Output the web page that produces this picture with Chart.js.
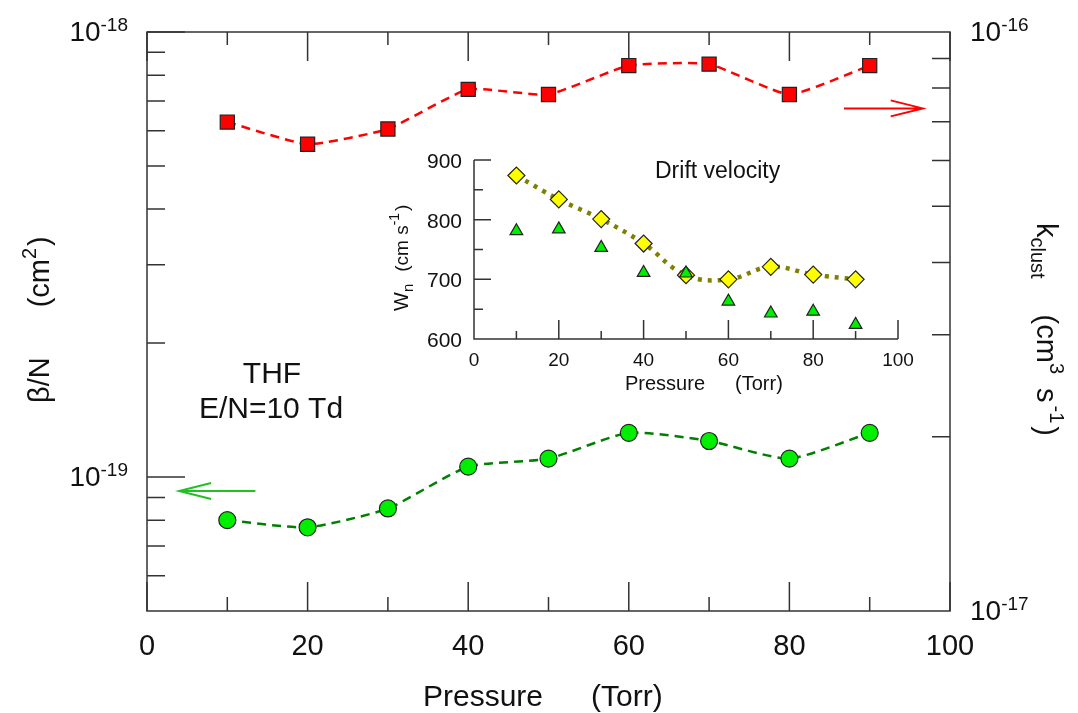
<!DOCTYPE html>
<html>
<head>
<meta charset="utf-8">
<script src="https://cdn.jsdelivr.net/npm/chart.js@4.4.0/dist/chart.umd.min.js"></script>
<style>
  html, body { margin: 0; padding: 0; background: #fff; }
  #wrap { position: relative; width: 1078px; height: 713px; }
  #wrap canvas { position: absolute; left: 0; top: 0; }
</style>
</head>
<body>
<div id="wrap">
  <canvas id="mainChart" width="1078" height="713"></canvas>
  <canvas id="insetChart" width="1078" height="713"></canvas>
</div>
<script>
// DATA ######################################################################

var pressure = [10, 20, 30, 40, 50, 60, 70, 80, 90];
// beta/N (cm2), left axis
var betaN = [8.0e-20, 7.71e-20, 8.5e-20, 1.055e-19, 1.10e-19, 1.257e-19, 1.205e-19, 1.10e-19, 1.257e-19];
// k_clust (cm3 s-1), right axis
var kClust = [6.99e-17, 6.4e-17, 6.8e-17, 7.96e-17, 7.8e-17, 8.75e-17, 8.8e-17, 7.8e-17, 8.75e-17];
// inset: drift velocity (cm s-1)
var driftDiamond = [874, 834, 801, 760, 707, 700, 721, 708, 700];
var driftTriangle = [781, 784, 753, 711, 710, 663, 643, 646, 624];

var xMajor = [0, 20, 40, 60, 80, 100];
var xMinor = [10, 30, 50, 70, 90];
var leftDecades = [1e-19, 1e-18];
var leftDecadeLabels = ['-19', '-18'];
var leftMinor = [6e-20, 7e-20, 8e-20, 9e-20, 2e-19, 3e-19, 4e-19, 5e-19, 6e-19, 7e-19, 8e-19, 9e-19];
var rightDecades = [1e-17, 1e-16];
var rightDecadeLabels = ['-17', '-16'];
var rightMinor = [2e-17, 3e-17, 4e-17, 5e-17, 6e-17, 7e-17, 8e-17, 9e-17];

var insetYMajor = [600, 700, 800, 900];
var insetYMinor = [650, 750, 850];
var insetXMajor = [20, 40, 60, 80, 100];
var insetXMinor = [10, 30, 50, 70, 90];
var insetXLabels = [0, 20, 40, 60, 80, 100];

// arrows: [xFrom, xTo, value]
var greenArrow = [13.5, 4.0, 9.3e-20];
var redArrow = [86.8, 96.6, 7.38e-17];

// HELPERS ###################################################################

var FONT = '"Liberation Sans", Arial, sans-serif';
function font(px) { return px + 'px ' + FONT; }

function runsWidth(ctx, runs) {
    var w = 0;
    runs.forEach(function (r) {
        ctx.font = font(r.size);
        w += (r.gap || 0) + ctx.measureText(r.t).width;
    });
    return w;
}

// draw pieces of text one after another (for super/subscripts)
function drawRuns(ctx, x, y, angle, runs) {
    ctx.save();
    ctx.translate(x, y);
    ctx.rotate(angle);
    ctx.textAlign = 'left';
    ctx.textBaseline = 'alphabetic';
    ctx.fillStyle = '#111';
    var pos = 0;
    runs.forEach(function (r) {
        pos += r.gap || 0;
        ctx.font = font(r.size);
        ctx.fillText(r.t, pos, -(r.shift || 0));
        pos += ctx.measureText(r.t).width;
    });
    ctx.restore();
}

function drawArrow(ctx, x1, x2, y, color) {
    var dir = x2 > x1 ? 1 : -1;
    ctx.save();
    ctx.strokeStyle = color;
    ctx.lineWidth = 2;
    ctx.beginPath();
    ctx.moveTo(x1, y);
    ctx.lineTo(x2, y);
    ctx.moveTo(x2 - dir * 32, y - 8);
    ctx.lineTo(x2, y);
    ctx.lineTo(x2 - dir * 32, y + 8);
    ctx.stroke();
    ctx.restore();
}

// MAIN CHART ################################################################

var mainDecor = {
    id: 'mainDecor',
    beforeDatasetsDraw: function (chart) {
        var ctx = chart.ctx, a = chart.chartArea;
        var sx = chart.scales.x, yl = chart.scales.yL, yr = chart.scales.yR;
        ctx.save();
        ctx.strokeStyle = '#333';
        ctx.lineWidth = 1.5;
        ctx.strokeRect(a.left, a.top, a.right - a.left, a.bottom - a.top);
        ctx.beginPath();
        xMajor.forEach(function (v) {
            var p = sx.getPixelForValue(v);
            ctx.moveTo(p, a.bottom); ctx.lineTo(p, a.bottom - 29);
            ctx.moveTo(p, a.top); ctx.lineTo(p, a.top + 29);
        });
        xMinor.forEach(function (v) {
            var p = sx.getPixelForValue(v);
            ctx.moveTo(p, a.bottom); ctx.lineTo(p, a.bottom - 14);
            ctx.moveTo(p, a.top); ctx.lineTo(p, a.top + 13);
        });
        leftDecades.forEach(function (v) {
            var p = yl.getPixelForValue(v);
            ctx.moveTo(a.left, p); ctx.lineTo(a.left + 38, p);
        });
        leftMinor.forEach(function (v) {
            var p = yl.getPixelForValue(v);
            ctx.moveTo(a.left, p); ctx.lineTo(a.left + 18, p);
        });
        rightMinor.forEach(function (v) {
            var p = yr.getPixelForValue(v);
            ctx.moveTo(a.right, p); ctx.lineTo(a.right - 18, p);
        });
        ctx.stroke();
        ctx.restore();

        drawArrow(ctx, sx.getPixelForValue(greenArrow[0]), sx.getPixelForValue(greenArrow[1]),
            yl.getPixelForValue(greenArrow[2]), '#22c022');
        drawArrow(ctx, sx.getPixelForValue(redArrow[0]), sx.getPixelForValue(redArrow[1]),
            yr.getPixelForValue(redArrow[2]), '#ff0000');
    },
    afterDraw: function (chart) {
        var ctx = chart.ctx, a = chart.chartArea;
        var sx = chart.scales.x, yl = chart.scales.yL, yr = chart.scales.yR;

        // x tick labels
        ctx.save();
        ctx.fillStyle = '#111';
        ctx.font = font(29);
        ctx.textAlign = 'center';
        ctx.textBaseline = 'alphabetic';
        xMajor.forEach(function (v) {
            ctx.fillText(String(v), sx.getPixelForValue(v), 655);
        });
        ctx.restore();

        // decade labels
        leftDecades.forEach(function (v, i) {
            var runs = [{t: '10', size: 28}, {t: leftDecadeLabels[i], size: 19, shift: 10}];
            var w = runsWidth(ctx, runs);
            drawRuns(ctx, 128 - w, yl.getPixelForValue(v) + 9, 0, runs);
        });
        rightDecades.forEach(function (v, i) {
            var runs = [{t: '10', size: 28}, {t: rightDecadeLabels[i], size: 19, shift: 10}];
            drawRuns(ctx, 970, yr.getPixelForValue(v) + 9, 0, runs);
        });

        // axis titles
        drawRuns(ctx, 423, 706, 0, [{t: 'Pressure', size: 30}, {t: '(Torr)', size: 30, gap: 48}]);
        drawRuns(ctx, 49, 403, -Math.PI / 2, [
            {t: '\u03b2/N', size: 29},
            {t: '(cm', size: 29, gap: 50},
            {t: '2', size: 20, shift: 13},
            {t: ')', size: 29, gap: 2}
        ]);
        drawRuns(ctx, 1037, 223, Math.PI / 2, [
            {t: 'k', size: 29},
            {t: 'clust', size: 20, shift: -6},
            {t: '(cm', size: 29, gap: 36},
            {t: '3', size: 20, shift: 13},
            {t: 's', size: 29, gap: 14},
            {t: '-1', size: 20, shift: 13, gap: 3},
            {t: ')', size: 29, gap: 3}
        ]);

        // annotation
        ctx.save();
        ctx.fillStyle = '#111';
        ctx.font = font(30);
        ctx.textAlign = 'center';
        ctx.fillText('THF', 272, 383);
        ctx.fillText('E/N=10 Td', 271, 418);
        ctx.restore();
    }
};

var mainChart = new Chart(document.getElementById('mainChart'), {
    type: 'line',
    data: {
        datasets: [
            {
                label: 'k_clust',
                data: pressure.map(function (p, i) { return {x: p, y: kClust[i]}; }),
                yAxisID: 'yR',
                borderColor: '#ff0000',
                borderWidth: 2.5,
                borderDash: [9, 6],
                tension: 0.15,
                pointStyle: 'rect',
                pointRadius: 10,
                pointBackgroundColor: '#ff0000',
                pointBorderColor: '#222',
                pointBorderWidth: 1.2,
                clip: false
            },
            {
                label: 'beta/N',
                data: pressure.map(function (p, i) { return {x: p, y: betaN[i]}; }),
                yAxisID: 'yL',
                borderColor: '#008000',
                borderWidth: 2.5,
                borderDash: [9, 6],
                tension: 0.2,
                pointStyle: 'circle',
                pointRadius: 8.5,
                pointBackgroundColor: '#00ee00',
                pointBorderColor: '#222',
                pointBorderWidth: 1.2,
                clip: false
            }
        ]
    },
    options: {
        responsive: false,
        animation: false,
        layout: {padding: {left: 147, top: 32, right: 128, bottom: 102}},
        plugins: {legend: {display: false}, tooltip: {enabled: false}},
        scales: {
            x: {type: 'linear', min: 0, max: 100, display: false},
            yL: {type: 'logarithmic', position: 'left', min: 5e-20, max: 1e-18, display: false},
            yR: {type: 'logarithmic', position: 'right', min: 1e-17, max: 1e-16, display: false}
        }
    },
    plugins: [mainDecor]
});

// INSET #####################################################################

var insetDecor = {
    id: 'insetDecor',
    beforeDatasetsDraw: function (chart) {
        var ctx = chart.ctx, a = chart.chartArea;
        var sx = chart.scales.x, sy = chart.scales.y;
        ctx.save();
        ctx.strokeStyle = '#333';
        ctx.lineWidth = 1.5;
        ctx.beginPath();
        ctx.moveTo(a.left, a.top);
        ctx.lineTo(a.left, a.bottom);
        ctx.lineTo(a.right, a.bottom);
        insetYMajor.forEach(function (v) {
            var p = sy.getPixelForValue(v);
            ctx.moveTo(a.left, p); ctx.lineTo(a.left + 17, p);
        });
        insetYMinor.forEach(function (v) {
            var p = sy.getPixelForValue(v);
            ctx.moveTo(a.left, p); ctx.lineTo(a.left + 9, p);
        });
        insetXMajor.forEach(function (v) {
            var p = sx.getPixelForValue(v);
            ctx.moveTo(p, a.bottom); ctx.lineTo(p, a.bottom - 19);
        });
        insetXMinor.forEach(function (v) {
            var p = sx.getPixelForValue(v);
            ctx.moveTo(p, a.bottom); ctx.lineTo(p, a.bottom - 8);
        });
        ctx.stroke();
        ctx.restore();
    },
    afterDraw: function (chart) {
        var ctx = chart.ctx, a = chart.chartArea;
        var sx = chart.scales.x, sy = chart.scales.y;
        ctx.save();
        ctx.fillStyle = '#111';
        ctx.textBaseline = 'alphabetic';
        ctx.font = font(21);
        ctx.textAlign = 'right';
        insetYMajor.forEach(function (v) {
            ctx.fillText(String(v), 462, sy.getPixelForValue(v) + 8);
        });
        ctx.font = font(19);
        ctx.textAlign = 'center';
        insetXLabels.forEach(function (v) {
            ctx.fillText(String(v), sx.getPixelForValue(v), 366);
        });
        ctx.font = font(23);
        ctx.textAlign = 'left';
        ctx.fillText('Drift velocity', 655, 178);
        ctx.restore();

        drawRuns(ctx, 625, 390, 0, [{t: 'Pressure', size: 20}, {t: '(Torr)', size: 20, gap: 30}]);
        drawRuns(ctx, 408, 311, -Math.PI / 2, [
            {t: 'W', size: 20},
            {t: 'n', size: 15, shift: -5},
            {t: '(cm s', size: 19, gap: 12},
            {t: '-1', size: 14, shift: 9},
            {t: ')', size: 19, gap: 2}
        ]);
    }
};

var insetChart = new Chart(document.getElementById('insetChart'), {
    type: 'line',
    data: {
        datasets: [
            {
                label: 'triangles',
                data: pressure.map(function (p, i) { return {x: p, y: driftTriangle[i]}; }),
                showLine: false,
                pointStyle: 'triangle',
                pointRadius: 7.3,
                pointBackgroundColor: '#00ee00',
                pointBorderColor: '#222',
                pointBorderWidth: 1.2,
                clip: false
            },
            {
                label: 'diamonds',
                data: pressure.map(function (p, i) { return {x: p, y: driftDiamond[i]}; }),
                borderColor: '#808000',
                borderWidth: 4.5,
                borderDash: [4, 6],
                tension: 0.4,
                pointStyle: 'rectRot',
                pointRadius: 8.5,
                pointBackgroundColor: '#ffff00',
                pointBorderColor: '#222',
                pointBorderWidth: 1.2,
                clip: false
            }
        ]
    },
    options: {
        responsive: false,
        animation: false,
        layout: {padding: {left: 474, top: 160, right: 180, bottom: 374}},
        plugins: {legend: {display: false}, tooltip: {enabled: false}},
        scales: {
            x: {type: 'linear', min: 0, max: 100, display: false},
            y: {type: 'linear', min: 600, max: 900, display: false}
        }
    },
    plugins: [insetDecor]
});
</script>
</body>
</html>
